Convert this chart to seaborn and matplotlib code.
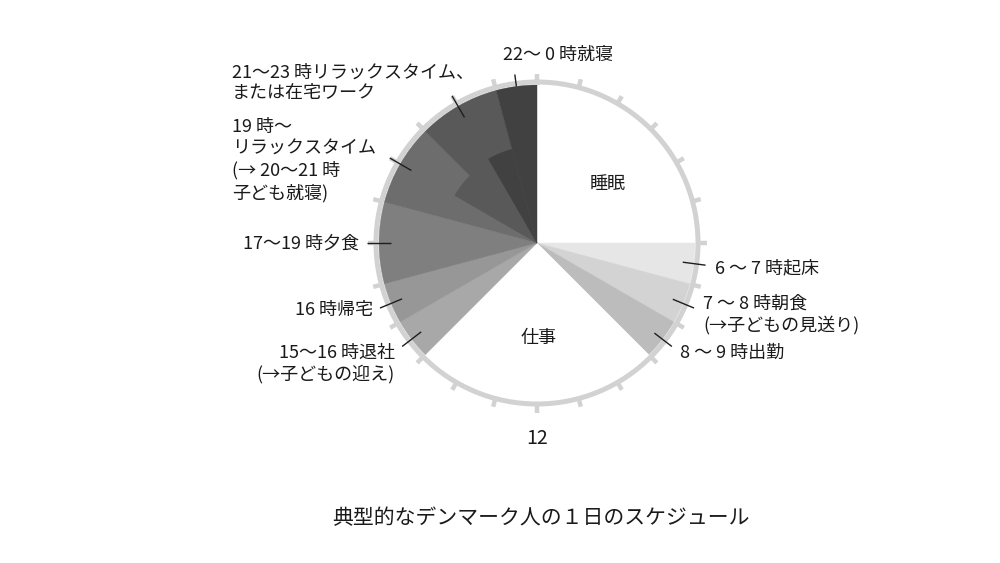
import numpy as np
import matplotlib
matplotlib.use("Agg")
import matplotlib.pyplot as plt
import seaborn as sns

# 24時間の時間帯 (開始時, 終了時)
hour_start = [0, 6, 7, 8, 9, 15, 16, 17, 19, 21, 23]
hour_end = [6, 7, 8, 9, 15, 16, 17, 19, 21, 23, 24]
# 重なり部分 (内側だけ次の時間帯の色で塗る)
overlap_start = [20, 22]
overlap_end = [21, 23]
overlap_of = [9, 10]  # どの時間帯の色か

segment_labels = ["睡眠", "6 〜 7 時起床", "7 〜 8 時朝食\n(→子どもの見送り)", "8 〜 9 時出勤", "仕事",
                  "15〜16 時退社\n(→子どもの迎え)", "16 時帰宅", "17〜19 時夕食",
                  "19 時〜\nリラックスタイム\n(→ 20〜21 時\n子ども就寝)",
                  "21〜23 時リラックスタイム、\nまたは在宅ワーク", "22〜 0 時就寝"]
title = "典型的なデンマーク人の１日のスケジュール"

colors = ["#ffffff", "#e6e6e6", "#d3d3d3", "#bcbcbc", "#ffffff", "#a8a8a8",
          "#979797", "#7f7f7f", "#6d6d6d", "#595959", "#414141"]
ring = "#d2d2d2"

sns.set_theme(style="white")
plt.rcParams['font.family'] = ['Noto Sans CJK JP', 'DejaVu Sans']

W, H = 1000, 563
fig = plt.figure(figsize=(W / 100, H / 100), dpi=100)


def px(x, y):
    return x / W, 1 - y / H


# 円の中心 (537, 243)、半径 161px
cx, cy, R = 537, 243, 161
ax = fig.add_axes([(cx - R) / W, (H - cy - R) / H, 2 * R / W, 2 * R / H], projection="polar")
ax.set_theta_zero_location("N")
ax.set_theta_direction(-1)
ax.set_ylim(0, R)

to_rad = 2 * np.pi / 24
wedge_r = 158
for s, e, c in zip(hour_start, hour_end, colors):
    ax.bar(s * to_rad, wedge_r, width=(e - s) * to_rad, bottom=0, align="edge",
           color=c, edgecolor=c, linewidth=0.3, zorder=2)
inner_r = [95, 97]
for s, e, i, r in zip(overlap_start, overlap_end, overlap_of, inner_r):
    ax.bar(s * to_rad, r, width=(e - s) * to_rad, bottom=0, align="edge",
           color=colors[i], edgecolor=colors[i], linewidth=0.3, zorder=3)

ax.grid(False)
ax.set_yticks([])
ax.set_xticks([])
ax.spines["polar"].set_color(ring)
ax.spines["polar"].set_linewidth(3.6)

# 時刻の目盛り
for h in range(24):
    ax.plot([h * to_rad, h * to_rad], [R, R + 8.5], color=ring, lw=3.2,
            clip_on=False, zorder=1, solid_capstyle="butt")

# 引き出し線
leader_hours = [6.5, 7.5, 8.5, 15.5, 16.5, 18, 20, 22, 23.5]
leader_in = [147, 147, 148, 146, 146, 146, 145, 145, 158]
for h, r0 in zip(leader_hours, leader_in):
    ax.plot([h * to_rad, h * to_rad], [r0, 170], color="#1e1e1e", lw=1.0,
            clip_on=False, zorder=5, solid_capstyle="butt")

fs = 13
ls = 1.2
txt = dict(fontsize=fs, color="#1a1a1a")
fig.text(*px(608, 184), segment_labels[0], ha="center", va="center", **txt)
fig.text(*px(715, 268), segment_labels[1], ha="left", va="center", **txt)
fig.text(*px(703, 315), segment_labels[2], ha="left", va="center", linespacing=ls, **txt)
fig.text(*px(680, 353), segment_labels[3], ha="left", va="center", **txt)
fig.text(*px(539, 338), segment_labels[4], ha="center", va="center", **txt)
fig.text(*px(395, 364), segment_labels[5], ha="right", va="center", linespacing=ls, **txt)
fig.text(*px(373, 310), segment_labels[6], ha="right", va="center", **txt)
fig.text(*px(359, 244), segment_labels[7], ha="right", va="center", **txt)
fig.text(*px(232, 160), segment_labels[8], ha="left", va="center", linespacing=1.27, **txt)
fig.text(*px(232, 83), segment_labels[9], ha="left", va="center", linespacing=ls, **txt)
fig.text(*px(503, 55), segment_labels[10], ha="left", va="center", **txt)

ax.text(np.pi, 195, "12", ha="center", va="center", fontsize=14, color="#1a1a1a")
fig.text(*px(541, 518), title, ha="center", va="center", fontsize=15, color="#1a1a1a")

fig.savefig("out.png", dpi=100)
